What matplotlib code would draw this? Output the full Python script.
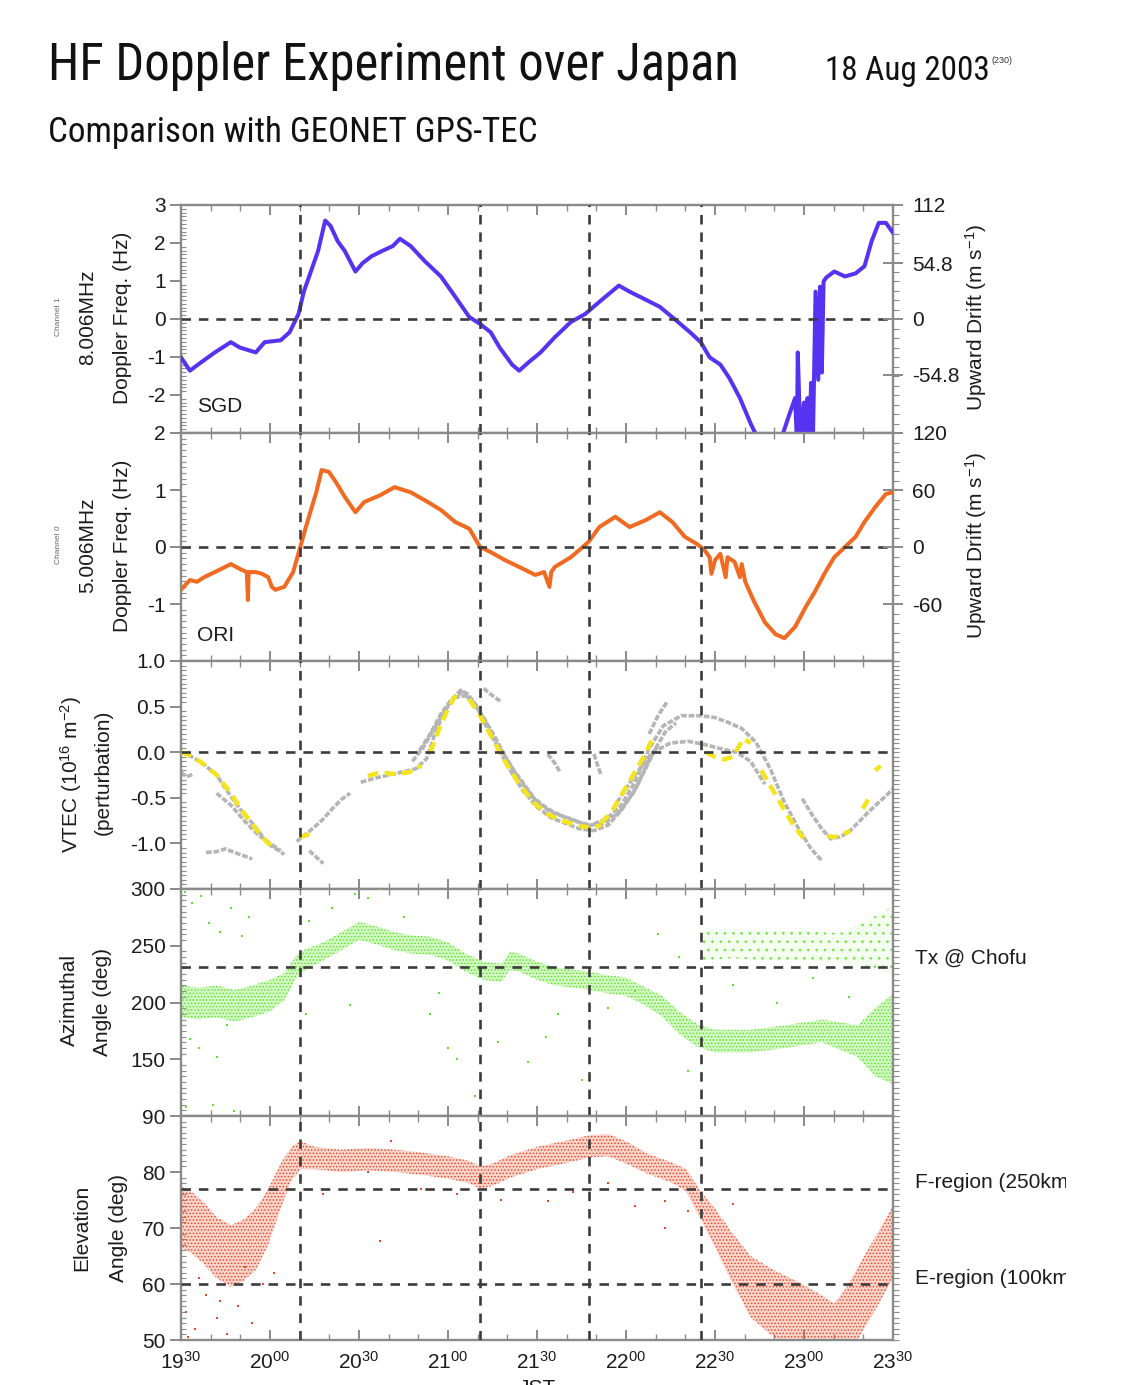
import matplotlib
matplotlib.use("Agg")
import numpy as np
import matplotlib.pyplot as plt
from matplotlib import font_manager as fm
from matplotlib.font_manager import FontProperties
from matplotlib.ticker import MultipleLocator, FixedLocator, FixedFormatter
from matplotlib.transforms import Bbox, TransformedBbox

plt.rcParams['font.family'] = ['Liberation Sans', 'DejaVu Sans']
plt.rcParams['mathtext.fontset'] = 'custom'
plt.rcParams['mathtext.rm'] = 'Liberation Sans'
plt.rcParams['mathtext.it'] = 'Liberation Sans:italic'
plt.rcParams['axes.unicode_minus'] = False
plt.rcParams['hatch.linewidth'] = 0.7

# ---------------------------------------------------------------- data
# time axis in decimal hours (JST)
time_ticks = [19.5, 20.0, 20.5, 21.0, 21.5, 22.0, 22.5, 23.0, 23.5]
time_labels = [r'$\mathregular{19^{30}}$', r'$\mathregular{20^{00}}$', r'$\mathregular{20^{30}}$',
               r'$\mathregular{21^{00}}$', r'$\mathregular{21^{30}}$', r'$\mathregular{22^{00}}$',
               r'$\mathregular{22^{30}}$', r'$\mathregular{23^{00}}$', r'$\mathregular{23^{30}}$']
event_times = [20.17, 21.18, 21.79, 22.42]

# Channel 1 (8.006 MHz), SGD : Doppler frequency (Hz)
sgd_t = [19.50, 19.55, 19.61, 19.69, 19.78, 19.83, 19.92, 19.97, 20.06, 20.11, 20.16, 20.19,
         20.22, 20.27, 20.31, 20.34, 20.38, 20.42, 20.48, 20.52, 20.57, 20.63, 20.69, 20.73,
         20.79, 20.87, 20.96, 21.04, 21.12, 21.18, 21.24, 21.29, 21.36, 21.40, 21.45, 21.52,
         21.60, 21.69, 21.77, 21.85, 21.96, 22.02, 22.11, 22.19, 22.28, 22.36, 22.42, 22.47,
         22.53, 22.58, 22.64, 22.70, 22.73, 22.81, 22.88, 22.92, 22.95, 22.96, 22.965, 22.98,
         23.00, 23.01, 23.02, 23.03, 23.04, 23.05, 23.065, 23.08, 23.09, 23.10, 23.11, 23.125,
         23.17, 23.23, 23.29, 23.34, 23.38, 23.42, 23.46, 23.50]
sgd_f = [-1.01, -1.36, -1.15, -0.88, -0.61, -0.75, -0.88, -0.61, -0.56, -0.35, 0.13, 0.72,
         1.12, 1.79, 2.59, 2.45, 2.05, 1.79, 1.25, 1.47, 1.65, 1.79, 1.92, 2.11,
         1.92, 1.52, 1.12, 0.59, 0.05, -0.13, -0.35, -0.75, -1.20, -1.36, -1.15, -0.88,
         -0.48, -0.08, 0.13, 0.45, 0.88, 0.72, 0.51, 0.32, -0.03, -0.35, -0.61, -1.01,
         -1.20, -1.55, -2.08, -2.75, -3.04, -3.60, -3.04, -2.48, -2.08, -3.20, -0.88, -3.20,
         -2.20, -3.20, -2.08, -3.20, -1.68, -3.20, 0.72, -1.60, 0.85, -1.41, 0.99, 1.09,
         1.25, 1.12, 1.20, 1.39, 2.05, 2.53, 2.53, 2.27]

# Channel 0 (5.006 MHz), ORI : Doppler frequency (Hz)
ori_t = [19.50, 19.55, 19.59, 19.63, 19.69, 19.78, 19.84, 19.87, 19.876, 19.88, 19.92, 19.955,
         19.99, 20.01, 20.03, 20.08, 20.13, 20.17, 20.21, 20.26, 20.29, 20.33, 20.37, 20.42,
         20.48, 20.53, 20.62, 20.70, 20.79, 20.87, 20.96, 21.04, 21.12, 21.18, 21.24, 21.32,
         21.40, 21.49, 21.54, 21.57, 21.58, 21.60, 21.69, 21.79, 21.85, 21.94, 22.02, 22.11,
         22.19, 22.26, 22.33, 22.40, 22.44, 22.47, 22.48, 22.50, 22.53, 22.56, 22.57, 22.61,
         22.64, 22.65, 22.67, 22.72, 22.78, 22.84, 22.89, 22.95, 23.01, 23.06, 23.12, 23.17,
         23.23, 23.29, 23.34, 23.40, 23.46, 23.50]
ori_f = [-0.75, -0.58, -0.61, -0.53, -0.44, -0.30, -0.40, -0.44, -0.93, -0.44, -0.44, -0.47,
         -0.53, -0.70, -0.75, -0.70, -0.44, 0.00, 0.44, 0.96, 1.35, 1.32, 1.14, 0.88,
         0.61, 0.79, 0.91, 1.05, 0.96, 0.82, 0.65, 0.44, 0.32, 0.00, -0.09, -0.23,
         -0.35, -0.49, -0.44, -0.70, -0.44, -0.35, -0.18, 0.09, 0.35, 0.53, 0.35, 0.47,
         0.61, 0.44, 0.18, 0.05, -0.05, -0.18, -0.47, -0.23, -0.12, -0.53, -0.18, -0.26,
         -0.53, -0.30, -0.61, -0.96, -1.32, -1.53, -1.60, -1.40, -1.05, -0.79, -0.44, -0.18,
         0.00, 0.18, 0.44, 0.70, 0.93, 0.96]

# GPS-TEC perturbation (1e16 m^-2), grey: all receivers, yellow: selected receivers
tec_g1_t = [19.50, 19.56, 19.62, 19.70, 19.75, 19.83, 19.91, 19.96, 20.00, 20.05, 20.08]
tec_g1_v = [0.00, -0.05, -0.12, -0.25, -0.40, -0.62, -0.80, -0.93, -1.02, -1.08, -1.12]
tec_g2_t = [19.70, 19.78, 19.86, 19.93, 20.00, 20.06]
tec_g2_v = [-0.45, -0.58, -0.76, -0.90, -1.00, -1.08]
tec_g3_t = [19.50, 19.53, 19.57]
tec_g3_v = [-0.22, -0.27, -0.24]
tec_g4_t = [19.64, 19.70, 19.75, 19.80, 19.86, 19.90]
tec_g4_v = [-1.10, -1.09, -1.06, -1.10, -1.14, -1.17]
tec_g5_t = [20.15, 20.20, 20.25, 20.30, 20.35, 20.40, 20.45]
tec_g5_v = [-0.98, -0.90, -0.82, -0.73, -0.62, -0.52, -0.45]
tec_g6_t = [20.22, 20.26, 20.30]
tec_g6_v = [-1.08, -1.15, -1.22]
tec_g7_t = [20.51, 20.60, 20.69, 20.76, 20.82, 20.88, 20.93, 20.97, 21.01, 21.07, 21.11, 21.16,
            21.22, 21.27, 21.32, 21.37, 21.42, 21.50, 21.58, 21.69, 21.79, 21.89, 21.97, 22.05,
            22.13, 22.21, 22.31, 22.42, 22.50, 22.57, 22.65, 22.73, 22.81, 22.89, 22.97, 23.04, 23.10]
tec_g7_v = [-0.33, -0.28, -0.24, -0.21, -0.18, -0.07, 0.22, 0.40, 0.55, 0.68, 0.64, 0.51,
            0.26, 0.10, -0.04, -0.20, -0.33, -0.55, -0.66, -0.73, -0.81, -0.73, -0.59, -0.33,
            0.04, 0.29, 0.40, 0.40, 0.38, 0.33, 0.26, 0.11, -0.18, -0.55, -0.84, -1.06, -1.19]
tec_g8_t = [20.80, 20.86, 20.92, 20.98, 21.04, 21.10, 21.16, 21.22, 21.28, 21.35, 21.42, 21.50,
            21.58, 21.66, 21.74, 21.82, 21.90, 21.98, 22.06, 22.12, 22.18]
tec_g8_v = [-0.10, 0.05, 0.25, 0.45, 0.60, 0.62, 0.50, 0.30, 0.05, -0.20, -0.42, -0.60,
            -0.72, -0.78, -0.84, -0.86, -0.80, -0.62, -0.38, -0.12, 0.08]
tec_g9_t = [20.84, 20.90, 20.96, 21.02, 21.08, 21.14, 21.20, 21.26, 21.33, 21.40, 21.48, 21.56,
            21.64, 21.72, 21.80, 21.88, 21.96, 22.04, 22.10, 22.16, 22.22, 22.28]
tec_g9_v = [0.02, 0.20, 0.42, 0.58, 0.66, 0.55, 0.38, 0.18, -0.08, -0.30, -0.50, -0.62,
            -0.70, -0.76, -0.80, -0.78, -0.66, -0.45, -0.22, 0.02, 0.22, 0.32]
tec_g10_t = [21.95, 22.05, 22.15, 22.25, 22.35, 22.45, 22.55, 22.62, 22.70, 22.78]
tec_g10_v = [-0.55, -0.25, 0.00, 0.10, 0.12, 0.08, 0.03, 0.00, -0.10, -0.35]
tec_g11_t = [21.20, 21.25, 21.30]
tec_g11_v = [0.70, 0.62, 0.55]
tec_g12_t = [22.13, 22.18, 22.23]
tec_g12_v = [0.20, 0.40, 0.55]
tec_g13_t = [21.56, 21.60, 21.63]
tec_g13_v = [-0.02, -0.12, -0.22]
tec_g14_t = [21.82, 21.84, 21.86]
tec_g14_v = [-0.02, -0.14, -0.25]
tec_g15_t = [22.99, 23.05, 23.10, 23.15, 23.20, 23.25, 23.30, 23.36, 23.42, 23.46, 23.50]
tec_g15_v = [-0.51, -0.70, -0.84, -0.95, -0.93, -0.88, -0.78, -0.66, -0.55, -0.48, -0.40]

tec_y1_t = [19.50, 19.56, 19.62, 19.70, 19.78, 19.85, 19.92, 19.98, 20.02]
tec_y1_v = [0.00, -0.04, -0.12, -0.25, -0.45, -0.66, -0.84, -0.98, -1.05]
tec_y2_t = [20.17, 20.22]
tec_y2_v = [-0.93, -0.90]
tec_y3_t = [20.55, 20.62, 20.70, 20.78, 20.85]
tec_y3_v = [-0.26, -0.22, -0.24, -0.22, -0.15]
tec_y4_t = [20.90, 20.95, 21.00, 21.05]
tec_y4_v = [0.00, 0.25, 0.48, 0.65]
tec_y5_t = [21.12, 21.18, 21.25, 21.32, 21.40, 21.48, 21.56, 21.64, 21.72, 21.80, 21.86]
tec_y5_v = [0.58, 0.40, 0.15, -0.10, -0.35, -0.55, -0.68, -0.75, -0.80, -0.83, -0.80]
tec_y6_t = [21.86, 21.92, 21.98, 22.04, 22.10, 22.15]
tec_y6_v = [-0.78, -0.65, -0.45, -0.25, -0.05, 0.15]
tec_y7_t = [22.45, 22.50, 22.55, 22.60, 22.66, 22.70]
tec_y7_v = [0.00, -0.05, -0.08, -0.05, 0.15, 0.10]
tec_y8_t = [22.76, 22.82, 22.88, 22.94, 23.00]
tec_y8_v = [-0.20, -0.40, -0.60, -0.80, -0.95]
tec_y9_t = [23.13, 23.17, 23.22, 23.26]
tec_y9_v = [-0.92, -0.93, -0.90, -0.86]
tec_y10_t = [23.33, 23.36]
tec_y10_v = [-0.62, -0.52]
tec_y11_t = [23.40, 23.43]
tec_y11_v = [-0.20, -0.15]

# azimuthal angle (deg): trend and spread of the main echo cloud
az_t = [19.50, 19.60, 19.70, 19.80, 19.90, 20.00, 20.08, 20.15, 20.20, 20.30, 20.40, 20.50,
        20.60, 20.70, 20.80, 20.90, 21.00, 21.10, 21.20, 21.30, 21.35, 21.40, 21.50, 21.60,
        21.70, 21.80, 21.90, 22.00, 22.10, 22.20, 22.30, 22.40, 22.50, 22.70, 22.90, 23.10,
        23.30, 23.40, 23.50]
az_c = [201, 199, 201, 197, 201, 206, 214, 232, 238, 245, 254, 263,
        259, 254, 251, 250, 245, 235, 228, 226, 237, 235, 228, 223,
        221, 219, 216, 214, 206, 197, 182, 171, 166, 166, 170, 175,
        166, 165, 168]
az_s = [14, 14, 14, 14, 14, 14, 12, 10, 9, 8, 8, 8,
        8, 8, 8, 8, 8, 8, 8, 8, 8, 8, 8, 8,
        8, 8, 8, 8, 8, 9, 10, 10, 10, 10, 10, 10,
        14, 30, 40]
# second (upper) azimuth cloud after 22:25
az2_t = [22.42, 22.60, 22.80, 23.00, 23.20, 23.35, 23.50]
az2_c = [250, 252, 250, 250, 248, 252, 255]
az2_s = [13, 13, 13, 13, 13, 20, 30]
az_out_t = [19.52, 19.56, 19.61, 19.66, 19.72, 19.78, 19.84, 19.88, 19.55, 19.60, 19.70, 19.76,
            19.53, 19.68, 19.80, 20.22, 20.35, 20.48, 20.55, 20.62, 20.75, 20.90, 21.00, 21.05,
            21.15, 21.28, 21.45, 21.62, 21.75, 21.90, 22.05, 22.18, 22.30, 20.20, 20.45, 20.95,
            21.55, 22.35, 22.60, 22.85, 23.05, 23.25]
az_out_v = [297, 288, 294, 270, 262, 283, 259, 275, 168, 160, 152, 180,
            108, 110, 104, 272, 283, 296, 292, 300, 275, 190, 160, 150,
            118, 165, 148, 190, 132, 195, 210, 260, 240, 190, 198, 208,
            170, 140, 215, 200, 222, 205]

# elevation angle (deg): trend and spread
el_t = [19.50, 19.56, 19.63, 19.70, 19.78, 19.85, 19.92, 19.99, 20.06, 20.12, 20.17, 20.25,
        20.40, 20.55, 20.70, 20.85, 21.00, 21.12, 21.18, 21.25, 21.35, 21.50, 21.65, 21.80,
        21.90, 22.00, 22.12, 22.25, 22.34, 22.42, 22.50, 22.60, 22.70, 22.83, 22.96, 23.10,
        23.17, 23.24, 23.32, 23.42, 23.50]
el_c = [72.0, 71.0, 69.0, 66.5, 65.0, 66.0, 68.0, 72.0, 77.5, 81.5, 83.0, 82.5,
        82.0, 82.3, 82.0, 81.5, 80.8, 80.0, 79.0, 79.5, 81.0, 82.5, 83.5, 84.6,
        84.8, 83.5, 81.5, 80.0, 78.5, 74.0, 70.0, 64.5, 59.5, 56.5, 54.5, 52.5,
        51.5, 53.5, 57.5, 63.0, 67.5]
el_s = [5.5, 5.5, 5.5, 5.5, 5.5, 5.5, 5.5, 5.0, 4.0, 3.0, 2.5, 2.0,
        2.0, 2.0, 2.0, 2.0, 2.0, 2.0, 2.0, 2.0, 2.0, 2.0, 2.0, 2.0,
        2.0, 2.0, 1.8, 1.8, 2.0, 2.5, 3.5, 4.5, 5.5, 6.0, 6.0, 5.5,
        5.0, 6.0, 6.5, 6.5, 6.5]
el_out_t = [19.53, 19.58, 19.64, 19.70, 19.76, 19.82, 19.90, 19.96, 20.02, 19.60, 19.72, 20.30,
            20.55, 20.68, 20.85, 21.05, 21.30, 21.56, 21.70, 22.05, 22.22, 22.35, 20.62, 21.90,
            19.54, 19.86, 22.60, 22.22]
el_out_v = [55, 52, 58, 54, 51, 56, 53, 60, 62, 61, 57, 76,
            80, 85.5, 77, 76, 75, 74.8, 76.5, 74, 74.8, 73, 67.7, 78,
            50.5, 63, 74.3, 70]

# ---------------------------------------------------------------- figure
W, H = 1123, 1385
fig = plt.figure(figsize=(W / 100, H / 100), dpi=100)
fig.patch.set_facecolor('white')

def px(x, y):
    return x / W, 1 - y / H

edges = [205, 433, 661, 889, 1116, 1340]
X0, X1 = 181, 893
SPINE = '#8a8a8a'
TXT = '#1c1c1c'
DASH_C = '#3c3c3c'
FS = 15

axes = []
for i in range(5):
    top, bot = edges[i], edges[i + 1]
    ax = fig.add_axes([X0 / W, 1 - bot / H, (X1 - X0) / W, (bot - top) / H])
    axes.append(ax)


def style(ax, yticks, ylim, yminor, fmt=None):
    ax.set_xlim(19.5, 23.5)
    ax.set_ylim(*ylim)
    ax.xaxis.set_major_locator(FixedLocator(time_ticks))
    ax.xaxis.set_minor_locator(MultipleLocator(1 / 6))
    ax.yaxis.set_major_locator(FixedLocator(yticks))
    ax.yaxis.set_minor_locator(MultipleLocator(yminor))
    if fmt:
        ax.yaxis.set_major_formatter(FixedFormatter([fmt.format(v) for v in yticks]))
    for s in ax.spines.values():
        s.set_color(SPINE)
        s.set_linewidth(1.7)
    ax.tick_params(axis='x', which='both', direction='in', top=True, bottom=True,
                   colors=SPINE, labelbottom=False)
    ax.tick_params(axis='x', which='major', length=7, width=1.4)
    ax.tick_params(axis='x', which='minor', length=4, width=1.0)
    ax.tick_params(axis='y', which='major', direction='out', length=8, width=1.4,
                   colors=SPINE, labelcolor=TXT, labelsize=FS, pad=3)
    ax.tick_params(axis='y', which='minor', direction='in', length=3.5, width=0.8,
                   colors=SPINE)
    for t in event_times:
        ax.axvline(t, color=DASH_C, lw=1.9, dashes=(3.6, 3.0), zorder=5)


def right_axis(ax, ylim, ticks=None, labels=None, minor=None):
    r = ax.twinx()
    r.set_ylim(*ylim)
    for s in r.spines.values():
        s.set_visible(False)
    if ticks is not None:
        r.yaxis.set_major_locator(FixedLocator(ticks))
        r.yaxis.set_major_formatter(FixedFormatter(labels))
    else:
        r.yaxis.set_major_locator(FixedLocator([]))
    r.yaxis.set_minor_locator(MultipleLocator(minor))
    r.tick_params(axis='y', which='major', direction='inout', length=14, width=1.4,
                  colors=SPINE, labelcolor=TXT, labelsize=FS, pad=7)
    r.tick_params(axis='y', which='minor', direction='out', length=4, width=0.8, colors=SPINE)
    return r


def ftext(x, y, s, **kw):
    fx, fy = px(x, y)
    return fig.text(fx, fy, s, **kw)


# ---- panel 1: SGD 8.006 MHz
ax = axes[0]
style(ax, [-2, -1, 0, 1, 2, 3], (-3, 3), 0.1)
ax.axhline(0, color=DASH_C, lw=1.9, dashes=(3.6, 3.0), zorder=5)
ax.plot(sgd_t, sgd_f, color='#5533f0', lw=2.9, solid_joinstyle='round', zorder=3)
right_axis(ax, (-112, 112), [-54.8, 0, 54.8, 112], ['-54.8', '0', '54.8', '112'], 112 / 3 / 4)
ftext(197, 407, 'SGD', fontsize=FS, color=TXT, va='center')

# ---- panel 2: ORI 5.006 MHz
ax = axes[1]
style(ax, [-1, 0, 1, 2], (-2, 2), 0.1)
ax.axhline(0, color=DASH_C, lw=1.9, dashes=(3.6, 3.0), zorder=5)
ax.plot(ori_t, ori_f, color='#f06a22', lw=2.9, solid_joinstyle='round', zorder=3)
right_axis(ax, (-120, 120), [-60, 0, 60, 120], ['-60', '0', '60', '120'], 10)
ftext(197, 635, 'ORI', fontsize=FS, color=TXT, va='center')

# ---- panel 3: GPS-TEC
ax = axes[2]
style(ax, [-1.0, -0.5, 0.0, 0.5, 1.0], (-1.5, 1.0), 0.05, fmt='{:.1f}')
ax.axhline(0, color=DASH_C, lw=1.9, dashes=(3.6, 3.0), zorder=5)
grey_tracks = [(tec_g1_t, tec_g1_v), (tec_g2_t, tec_g2_v), (tec_g3_t, tec_g3_v),
               (tec_g4_t, tec_g4_v), (tec_g5_t, tec_g5_v), (tec_g6_t, tec_g6_v),
               (tec_g7_t, tec_g7_v), (tec_g8_t, tec_g8_v), (tec_g9_t, tec_g9_v),
               (tec_g10_t, tec_g10_v), (tec_g11_t, tec_g11_v), (tec_g12_t, tec_g12_v),
               (tec_g13_t, tec_g13_v), (tec_g14_t, tec_g14_v), (tec_g15_t, tec_g15_v)]
for t, v in grey_tracks:
    ax.plot(t, v, color='#b5b5b5', lw=2.6, dashes=(1.6, 0.5), zorder=2)
yellow_tracks = [(tec_y1_t, tec_y1_v), (tec_y2_t, tec_y2_v), (tec_y3_t, tec_y3_v),
                 (tec_y4_t, tec_y4_v), (tec_y5_t, tec_y5_v), (tec_y6_t, tec_y6_v),
                 (tec_y7_t, tec_y7_v), (tec_y8_t, tec_y8_v), (tec_y9_t, tec_y9_v),
                 (tec_y10_t, tec_y10_v), (tec_y11_t, tec_y11_v)]
for t, v in yellow_tracks:
    ax.plot(t, v, color='#f3e41c', lw=3.2, dashes=(2.4, 1.5), zorder=3)
right_axis(ax, (-1.5, 1.0), minor=0.05)

# ---- panel 4: azimuth
ax = axes[3]
style(ax, [150, 200, 250, 300], (100, 300), 5)
ax.axhline(231, color=DASH_C, lw=1.9, dashes=(3.6, 3.0), zorder=5)
GREEN = '#62e22e'
az_c_a, az_s_a = np.array(az_c, float), np.array(az_s, float)
ax.fill_between(az_t, az_c_a - az_s_a, az_c_a + az_s_a, facecolor=(0.45, 0.92, 0.25, 0.30),
                edgecolor=GREEN, hatch='.....', linewidth=0, zorder=2)
az2_c_a, az2_s_a = np.array(az2_c, float), np.array(az2_s, float)
ax.fill_between(az2_t, az2_c_a - az2_s_a, az2_c_a + az2_s_a, facecolor=(0.45, 0.92, 0.25, 0.08),
                edgecolor=(0.38, 0.88, 0.18, 0.8), hatch='..', linewidth=0, zorder=2)
ax.scatter(az_out_t, az_out_v, s=4, marker='s', color=GREEN, linewidths=0, zorder=3)
right_axis(ax, (100, 300), minor=5)

# ---- panel 5: elevation
ax = axes[4]
style(ax, [50, 60, 70, 80, 90], (50, 90), 1)
ax.axhline(77, color=DASH_C, lw=1.9, dashes=(3.6, 3.0), zorder=5)
ax.axhline(60, color=DASH_C, lw=1.9, dashes=(3.6, 3.0), zorder=5)
RED = '#e8492a'
el_c_a, el_s_a = np.array(el_c, float), np.array(el_s, float)
ax.fill_between(el_t, el_c_a - el_s_a, el_c_a + el_s_a, facecolor=(0.93, 0.35, 0.20, 0.25),
                edgecolor=RED, hatch='.....', linewidth=0, zorder=2)
ax.scatter(el_out_t, el_out_v, s=4, marker='s', color=RED, linewidths=0, zorder=3)
right_axis(ax, (50, 90), minor=1)
ax.xaxis.set_major_formatter(FixedFormatter(time_labels))
ax.tick_params(axis='x', which='major', labelbottom=True, labelcolor=TXT, labelsize=FS, pad=8)

# ---------------------------------------------------------------- texts
# heading font: a narrow sans face when one is installed
installed = {f.name for f in fm.fontManager.ttflist}
condensed = {(f.name, f.stretch) for f in fm.fontManager.ttflist}
head_fp = None
for cand in ['Liberation Sans Narrow', 'Arial Narrow', 'Roboto Condensed', 'Open Sans Condensed']:
    if cand in installed:
        head_fp = FontProperties(family=cand)
        break
if head_fp is None:
    for name in ['Roboto', 'Open Sans', 'Noto Sans', 'DejaVu Sans']:
        if (name, 'condensed') in condensed or (name, 'semi-condensed') in condensed:
            st = 'condensed' if (name, 'condensed') in condensed else 'semi-condensed'
            head_fp = FontProperties(family=name, stretch=st)
            break
if head_fp is None:
    head_fp = FontProperties(family='Liberation Sans')

renderer = fig.canvas.get_renderer()


def heading(x, y, s, size, width_px, color='#111111'):
    fp = head_fp.copy()
    fp.set_size(size)
    t = ftext(x, y, s, fontproperties=fp, color=color, va='baseline')
    w = t.get_window_extent(renderer=renderer).width
    if w > width_px:
        fp.set_size(size * width_px / w)
        t.set_fontproperties(fp)
    return t


heading(48, 80, 'HF Doppler Experiment over Japan', 37, 690)
heading(825, 80, '18 Aug 2003', 26, 165)
ftext(992, 63, '(230)', fontsize=6.5, color='#333333', va='baseline')
heading(48, 142, 'Comparison with GEONET GPS-TEC', 26, 490)

lab = dict(rotation=90, ha='center', va='center', color=TXT)
ftext(58, 317, 'Channel 1', fontsize=6, color='#666666', rotation=90, ha='center', va='center')
ftext(88, 317, '8.006MHz', fontsize=FS, **lab)
ftext(122, 318, 'Doppler Freq. (Hz)', fontsize=FS, **lab)
ftext(58, 545, 'Channel 0', fontsize=6, color='#666666', rotation=90, ha='center', va='center')
ftext(88, 545, '5.006MHz', fontsize=FS, **lab)
ftext(122, 546, 'Doppler Freq. (Hz)', fontsize=FS, **lab)
ftext(71, 775, r'VTEC (10$^{\mathregular{16}}$ m$^{\mathregular{-2}}$)', fontsize=FS, **lab)
ftext(103, 772, '(perturbation)', fontsize=FS, **lab)
ftext(69, 1000, 'Azimuthal', fontsize=FS, **lab)
ftext(102, 1002, 'Angle (deg)', fontsize=FS, **lab)
ftext(82, 1228, 'Elevation', fontsize=FS, **lab)
ftext(118, 1228, 'Angle (deg)', fontsize=FS, **lab)
ftext(976, 317, r'Upward Drift (m s$^{\mathregular{-1}}$)', fontsize=FS, **lab)
ftext(976, 545, r'Upward Drift (m s$^{\mathregular{-1}}$)', fontsize=FS, **lab)

ftext(915, 958, 'Tx @ Chofu', fontsize=FS, color=TXT, va='center')
clip = TransformedBbox(Bbox([[0, 0], [1066 / W, 1]]), fig.transFigure)
for y, s in [(1182, 'F-region (250km)'), (1278, 'E-region (100km)')]:
    t = ftext(915, y, s, fontsize=FS, color=TXT, va='center')
    t.set_clip_box(clip)
    t.set_clip_on(True)

ftext(537, 1379, 'JST', fontsize=FS, color=TXT, ha='center', va='top')

fig.savefig('out.png', dpi=100, facecolor='white')
